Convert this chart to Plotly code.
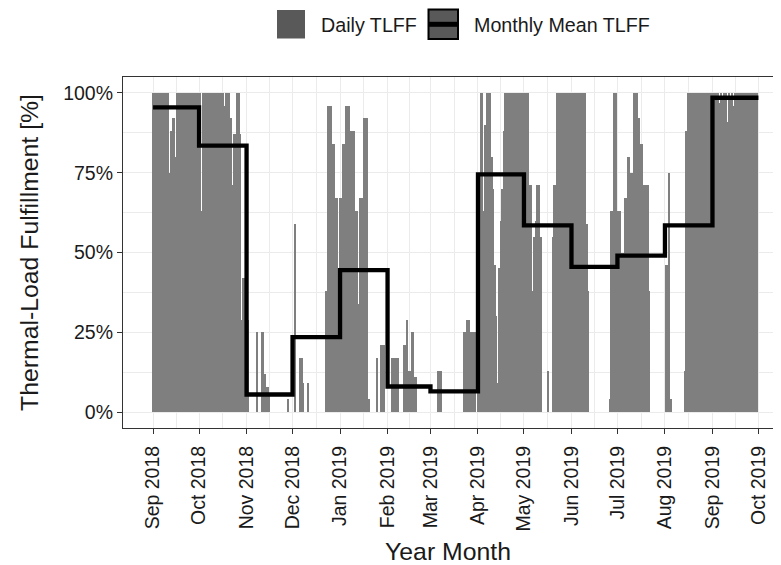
import pandas as pd
import plotly.graph_objects as go

# ---------------- data ----------------
sep18 = [100, 100, 100, 100, 100, 100, 100, 100, 100, 100, 100, 75, 88, 92, 92, 80,
         100, 100, 100, 100, 100, 100, 100, 100, 100, 100, 100, 100, 100, 100]
oct18 = [100, 100, 63, 100, 100, 100, 100, 100, 100, 100, 100, 100, 100, 100, 100, 100,
         100, 96, 100, 100, 100, 92, 71, 87, 87, 100, 100, 87, 29, 42, 42]
nov18 = [29, 29, 0, 0, 0, 0, 0, 25, 0, 0, 25, 25, 12, 8, 8, 6, 0, 0, 0, 0, 0, 0, 0,
         0, 0, 0, 0, 4, 0, 0]
dec18 = [0, 0, 59, 0, 0, 17, 17, 9, 0, 0, 9, 0, 0, 0, 0, 0, 0, 0, 0, 0, 0, 0, 38, 96,
         96, 96, 84, 84, 67, 67, 43]
jan19 = [67, 67, 84, 84, 96, 96, 96, 88, 88, 88, 63, 63, 34, 67, 67, 67, 92, 92, 92, 4,
         0, 0, 0, 0, 17, 0, 0, 21, 21, 21, 0]
feb19 = [0, 0, 0, 17, 17, 17, 17, 17, 0, 0, 0, 21, 21, 29, 13, 13, 25, 25, 11, 11,
         0, 0, 0, 0, 0, 0, 0, 0]
mar19 = [0, 0, 0, 0, 0, 13, 13, 13, 0, 0, 0, 0, 0, 0, 0, 0, 0, 0, 0, 0, 0, 0, 25, 25,
         29, 29, 25, 25, 25, 25, 0]
apr19 = [30, 63, 100, 100, 63, 90, 100, 100, 100, 80, 70, 46, 30, 9, 45, 60, 70, 88,
         100, 100, 100, 100, 100, 100, 100, 100, 100, 100, 100, 100]
may19 = [100, 100, 100, 100, 71, 71, 38, 55, 60, 71, 71, 55, 0, 0, 0, 0, 13, 0, 0, 55,
         71, 71, 100, 100, 100, 100, 100, 100, 100, 100, 100]
jun19 = [100, 100, 100, 100, 100, 100, 100, 100, 100, 100, 59, 38, 0, 0, 0, 0, 0, 0, 0,
         0, 0, 0, 0, 0, 0, 4, 63, 63, 100, 100]
jul19 = [63, 63, 63, 50, 50, 67, 67, 80, 80, 75, 75, 100, 100, 100, 92, 84, 84, 71, 71,
         71, 71, 38, 0, 0, 0, 0, 0, 0, 0, 0, 0]
aug19 = [0, 46, 46, 75, 4, 0, 0, 0, 0, 0, 0, 0, 0, 13, 88, 100, 100, 100, 100, 100,
         100, 100, 100, 100, 100, 100, 100, 100, 100, 100, 100]
sep19 = [100, 100, 100, 100, 100, 97, 100, 98, 100, 100, 91, 100, 98, 100, 96, 100,
         100, 100, 100, 100, 100, 100, 100, 100, 100, 100, 100, 100, 100, 100]

daily_tlff = (sep18 + oct18 + nov18 + dec18 + jan19 + feb19 + mar19 + apr19 + may19
              + jun19 + jul19 + aug19 + sep19)
days = pd.date_range("2018-09-01", "2019-09-30", freq="D")

month_starts = ["2018-09-01", "2018-10-01", "2018-11-01", "2018-12-01", "2019-01-01",
                "2019-02-01", "2019-03-01", "2019-04-01", "2019-05-01", "2019-06-01",
                "2019-07-01", "2019-08-01", "2019-09-01"]
monthly_mean = [95.5, 83.5, 5.5, 23.5, 44.5, 8.0, 6.5, 74.5, 58.5, 45.5, 49.0, 58.5, 98.5]

x_tick_dates = month_starts + ["2019-10-01"]
y_ticks = [0, 25, 50, 75, 100]
y_tick_labels = ["0%", "25%", "50%", "75%", "100%"]

# ---------------- figure ----------------
FONT = "Liberation Sans, Arial, Helvetica, sans-serif"
TXT = "#1a1a1a"
OFF = 8                      # the page body adds an 8 px margin
W, H = 781 - OFF, 565 - OFF
ML, MR, MT, MB = 115, 8, 69, 137
PW, PH = W - ML - MR, H - MT - MB

fig = go.Figure()
fig.add_trace(go.Bar(
    x=days, y=daily_tlff, width=86400000,
    marker=dict(color="#7f7f7f", line=dict(width=0)),
    name="Daily TLFF", showlegend=False,
))
step_x = month_starts + ["2019-10-01"]
step_y = monthly_mean + [monthly_mean[-1]]
fig.add_trace(go.Scatter(
    x=step_x, y=step_y, mode="lines", line=dict(color="black", width=4.3, shape="hv"),
    name="Monthly Mean TLFF", showlegend=False,
))

tick_ts = pd.to_datetime(x_tick_dates)
minor_x = [tick_ts[i] + (tick_ts[i + 1] - tick_ts[i]) / 2 for i in range(len(tick_ts) - 1)]

fig.update_xaxes(
    type="date",
    range=["2018-08-12 09:00", "2019-10-10 12:00"],
    tickmode="array", tickvals=tick_ts, ticktext=[t.strftime("%b %Y") for t in tick_ts],
    tickangle=-90, ticks="outside", ticklen=5, tickwidth=1.1, tickcolor="#333333",
    ticklabelstandoff=4,
    tickfont=dict(size=19.5, color=TXT, family=FONT),
    showline=True, mirror=True, linecolor="#333333", linewidth=1.1,
    showgrid=True, gridcolor="#ebebeb", gridwidth=1.2, zeroline=False,
    minor=dict(tickvals=minor_x, showgrid=True, gridcolor="#ebebeb", gridwidth=0.6, ticks=""),
    title=dict(text="Year Month", font=dict(size=24.8, color=TXT, family=FONT), standoff=14),
)
fig.update_yaxes(
    range=[-5, 105],
    tickmode="array", tickvals=y_ticks, ticktext=y_tick_labels,
    ticks="outside", ticklen=5, tickwidth=1.1, tickcolor="#333333",
    tickfont=dict(size=19.5, color=TXT, family=FONT),
    showline=True, mirror=True, linecolor="#333333", linewidth=1.1,
    showgrid=True, gridcolor="#ebebeb", gridwidth=1.2, zeroline=False,
    minor=dict(tickvals=[12.5, 37.5, 62.5, 87.5], showgrid=True, gridcolor="#ebebeb",
               gridwidth=0.6, ticks=""),
    title=dict(text="Thermal-Load Fulfillment [%]", font=dict(size=24.8, color=TXT, family=FONT),
               standoff=17),
)


def px(x):
    """page x pixel -> paper coordinate"""
    return (x - OFF - ML) / PW


def py(y):
    """page y pixel -> paper coordinate"""
    return (H - MB - (y - OFF)) / PH


shapes = [
    dict(type="rect", xref="paper", yref="paper", x0=px(277), x1=px(305), y0=py(38.5), y1=py(10),
         fillcolor="#595959", line=dict(width=0), layer="above"),
    dict(type="rect", xref="paper", yref="paper", x0=px(428.5), x1=px(458), y0=py(39), y1=py(9.5),
         fillcolor="#595959", line=dict(width=2, color="black"), layer="above"),
    dict(type="line", xref="paper", yref="paper", x0=px(428.5), x1=px(458), y0=py(24.3), y1=py(24.3),
         line=dict(width=5, color="black"), layer="above"),
]
annotations = [
    dict(text="Daily TLFF", xref="paper", yref="paper", x=px(319), y=py(24.5), xanchor="left",
         yanchor="middle", showarrow=False, font=dict(size=19.7, color=TXT, family=FONT)),
    dict(text="Monthly Mean TLFF", xref="paper", yref="paper", x=px(472), y=py(24.5),
         xanchor="left", yanchor="middle", showarrow=False,
         font=dict(size=19.7, color=TXT, family=FONT)),
]

fig.update_layout(
    width=W, height=H, margin=dict(l=ML, r=MR, t=MT, b=MB, autoexpand=False),
    plot_bgcolor="white", paper_bgcolor="white", bargap=0, showlegend=False,
    font=dict(family=FONT, size=19.5, color=TXT),
    shapes=shapes, annotations=annotations,
)

fig.write_html("out.html")
